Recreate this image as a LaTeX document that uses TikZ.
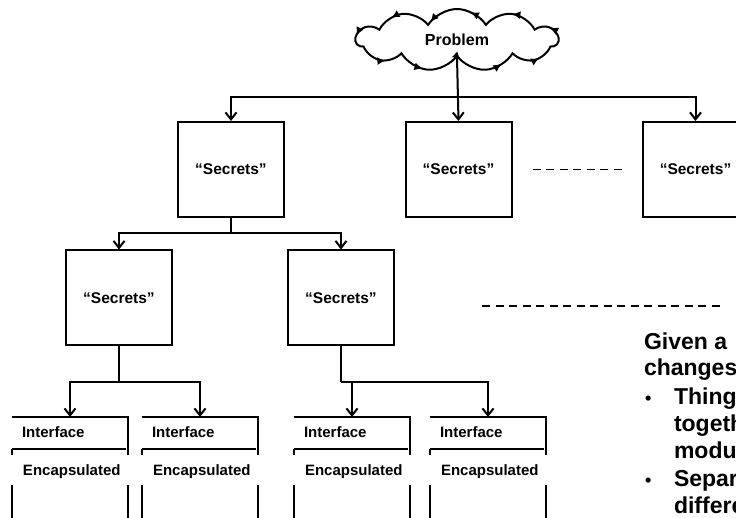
\documentclass[tikz,border=0pt]{standalone}
\usepackage{fontspec}
\setmainfont{Liberation Sans}
\usetikzlibrary{arrows.meta,shapes.symbols,decorations.markings,calc}

\begin{document}
\begin{tikzpicture}[x=1pt,y=-1pt,line width=2pt,
  secret/.style={draw,minimum width=106pt,minimum height=95pt,inner sep=0pt,
    font=\bfseries\fontsize{15.5}{17}\selectfont},
  modbox/.style={anchor=north west,minimum width=114pt,minimum height=125pt,inner sep=0pt},
  lbl/.style={anchor=base west,inner sep=0pt,font=\bfseries\fontsize{15}{17}\selectfont},
  note/.style={anchor=base west,inner sep=0pt,font=\bfseries\fontsize{23}{27}\selectfont},
  tip/.style={-{Straight Barb[length=7pt,width=11pt]}},
  dashes/.style={line width=1.6pt,dash pattern=on 8pt off 5.5pt}]
  \useasboundingbox (0,0) rectangle (736,518);
  \clip (0,0) rectangle (736,518);
  % problem cloud
  \node[cloud,draw,cloud puffs=11,cloud puff arc=115,aspect=3.2,
    minimum width=202pt,minimum height=62pt,inner sep=0pt,
    font=\bfseries\fontsize{16}{18}\selectfont,
    postaction={decorate,decoration={markings,
      mark=between positions 0.04 and 1 step 0.09 with {\arrow{Latex[length=8pt,width=8pt]}}}}]
    (prob) at (457,40) {Problem};
  % first level
  \node[secret] (sec1) at (231,169.5) {``Secrets''};
  \node[secret] (sec2) at (458.5,169.5) {``Secrets''};
  \node[secret] (sec3) at (695.5,169.5) {``Secrets''};
  \coordinate (j1) at (prob.south |- 0,97);
  \draw[tip] (prob.south) -- (sec2.north);
  \draw[tip] (j1) -| (sec1.north);
  \draw[tip] (j1) -| (sec3.north);
  \draw[dashes] ($(sec2.east)+(20,0)$) -- ($(sec3.west)+(-20,0)$);
  % second level
  \node[secret] (sec4) at (119,298) {``Secrets''};
  \node[secret] (sec5) at (341,298) {``Secrets''};
  \coordinate (j2) at (231,233);
  \draw (sec1.south) -- (j2);
  \draw[tip] (j2) -| (sec4.north);
  \draw[tip] (j2) -| (sec5.north);
  \draw[dashes] (482,306) -- (722,306);
  % modules
  \foreach \i/\l in {1/12,2/142,3/294,4/430} {
    \node[modbox] (mod\i) at (\l,417) {};
    \draw (mod\i.north west) -- (mod\i.north east) -- ++(0,38) ++(0,30) -- (mod\i.south east);
    \draw (\l,449) -- ++(114,0);
    \draw (\l,449) -- (\l,455) (\l,485) -- (mod\i.south west);
    \node[lbl] (if\i) at (\l+9,437) {Interface};
    \node[lbl] (en\i) at (\l+10,475) {Encapsulated};
  }
  \coordinate (j3) at (119,382);
  \draw (sec4.south) -- (j3);
  \draw[tip] (j3) -| (mod1.north);
  \draw[tip] (j3) -| (mod2.north);
  \coordinate (j4) at (341,382);
  \draw (sec5.south) -- (j4);
  \draw[tip] (j4) -| (mod3.north);
  \draw[tip] (j4) -| (mod4.north);
  % notes on the right
  \node[note] (n1) at (643,349) {Given a};
  \node[note] (n2) at (643,376) {changes};
  \node[note,font=\bfseries\fontsize{18}{27}\selectfont] (b1) at (644,404) {\textbullet};
  \node[note] (n3) at (673,404) {Things};
  \node[note] (n4) at (673,431) {together};
  \node[note] (n5) at (673,458) {module};
  \node[note,font=\bfseries\fontsize{18}{27}\selectfont] (b2) at (644,486) {\textbullet};
  \node[note] (n6) at (673,486) {Separate};
  \node[note] (n7) at (673,513) {different};
\end{tikzpicture}
\end{document}
